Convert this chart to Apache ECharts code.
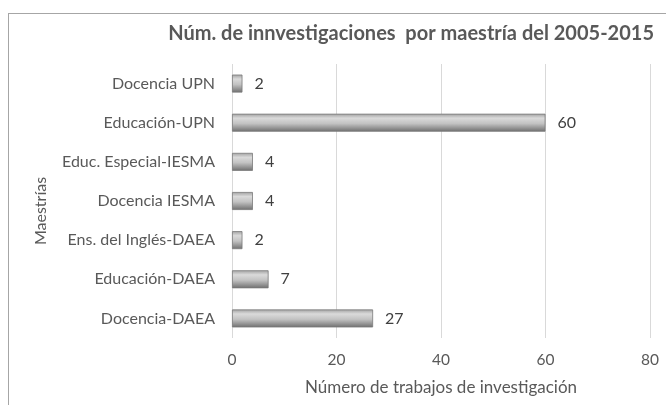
<!DOCTYPE html>
<html>
<head>
<meta charset="utf-8">
<script src="https://cdn.jsdelivr.net/npm/echarts@6/dist/echarts.min.js"></script>
<style>
  html, body { margin: 0; padding: 0; background: #fff; }
  #frame { position: absolute; left: 8px; top: 13px; width: 700px; height: 420px;
           border-left: 1px solid #a6a6a6; border-top: 1px solid #a6a6a6; }
  #chart { position: absolute; left: 0; top: 0; width: 666px; height: 405px; }
</style>
</head>
<body>
<div id="frame"></div>
<div id="chart"></div>
<script>
  // categorias de abajo hacia arriba (eje y de ECharts empieza abajo)
  var categorias = ['Docencia-DAEA', 'Educación-DAEA', 'Ens. del Inglés-DAEA', 'Docencia IESMA',
                    'Educ. Especial-IESMA', 'Educación-UPN', 'Docencia UPN'];
  var trabajos = [27, 7, 2, 4, 4, 60, 2];
  var ticksX = [0, 20, 40, 60, 80];

  var fuente = 'Lato';
  var chart = echarts.init(document.getElementById('chart'));
  chart.setOption({
    animation: false,
    title: {
      text: 'Núm. de innvestigaciones  por maestría del 2005-2015',
      right: 7,
      top: 19,
      textStyle: { fontFamily: fuente, fontSize: 20, fontWeight: 'bold', color: '#595959' }
    },
    grid: { left: 232, right: 16, top: 64, bottom: 67 },
    xAxis: {
      type: 'value',
      min: ticksX[0],
      max: ticksX[ticksX.length - 1],
      interval: 20,
      name: 'Número de trabajos de investigación',
      nameLocation: 'middle',
      nameGap: 41,
      nameTextStyle: { fontFamily: fuente, fontSize: 17, color: '#595959' },
      axisLine: { show: false },
      axisTick: { show: false },
      axisLabel: { fontFamily: fuente, fontSize: 15.5, color: '#595959', margin: 14 },
      splitLine: { lineStyle: { color: '#d9d9d9', width: 1 } }
    },
    yAxis: {
      type: 'category',
      data: categorias,
      name: 'Maestrías',
      nameLocation: 'middle',
      nameGap: 183,
      nameRotate: 90,
      nameTextStyle: { fontFamily: fuente, fontSize: 16, color: '#595959', padding: [0, 20, 0, 0] },
      axisLine: { show: false },
      axisTick: { show: false },
      axisLabel: { fontFamily: fuente, fontSize: 16, color: '#595959', margin: 17 }
    },
    series: [{
      type: 'bar',
      data: trabajos,
      barWidth: 18,
      itemStyle: {
        color: new echarts.graphic.LinearGradient(0, 0, 0, 1, [
          { offset: 0, color: '#a0a0a0' },
          { offset: 0.25, color: '#dadada' },
          { offset: 0.55, color: '#c2c2c2' },
          { offset: 1, color: '#6e6e6e' }
        ]),
        borderColor: '#7a7a7a',
        borderWidth: 0.8
      },
      label: {
        show: true,
        position: 'right',
        distance: 12,
        fontFamily: fuente,
        fontSize: 16,
        color: '#404040'
      }
    }]
  });
</script>
</body>
</html>
